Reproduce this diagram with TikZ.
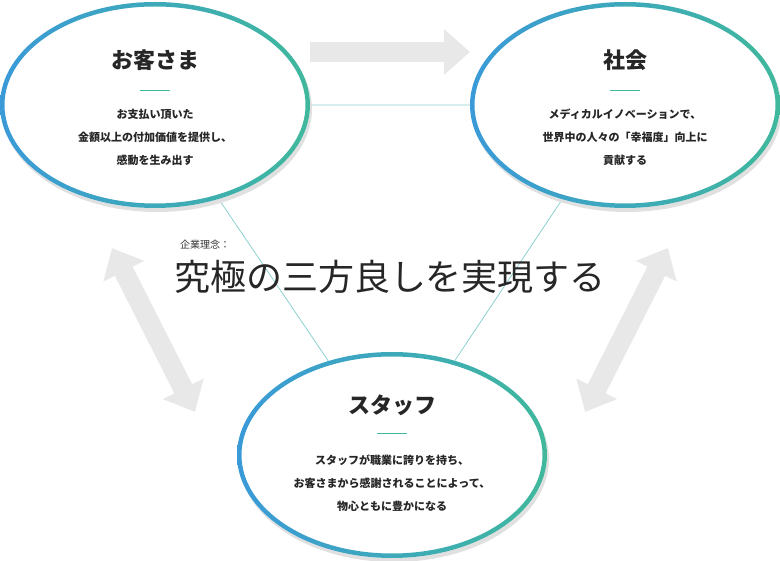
\documentclass[tikz,border=0pt]{standalone}
\usepackage{fontspec}
\setmainfont{Noto Sans CJK JP}
\usetikzlibrary{arrows.meta,positioning,calc}
\definecolor{ringblue}{HTML}{3A9AD8}
\definecolor{ringteal}{HTML}{40B89C}
\definecolor{arrowgray}{HTML}{E8E8E8}
\definecolor{linkteal}{HTML}{8FD0D0}
\tikzset{
  titletext/.style={font=\fontsize{22}{26}\selectfont\bfseries, text=black!85},
  bodytext/.style={font=\fontsize{11}{23}\selectfont\bfseries, align=center, text=black!85},
  bigarrow/.style={arrowgray, line width=20pt, -{Triangle[length=26pt,width=44pt]}},
  dblarrow/.style={arrowgray, line width=20pt, {Triangle[length=26pt,width=44pt]}-{Triangle[length=26pt,width=44pt]}},
}
\newcommand{\ringat}[1]{%
  \fill[black!12] ($(#1)+(2,4)$) ellipse [x radius=155, y radius=103];
  \fill[white] (#1) ellipse [x radius=155, y radius=103];
  \shade[left color=ringblue, right color=ringteal, even odd rule]
    (#1) ellipse [x radius=155, y radius=103]
    (#1) ellipse [x radius=150.5, y radius=98.5];
}
\begin{document}
\begin{tikzpicture}[x=1pt,y=-1pt]
  \useasboundingbox (0,0) rectangle (780,561);
  \coordinate (ck) at (155,105);
  \coordinate (cs) at (625,105);
  \coordinate (cf) at (392,455);
  % arrows
  \draw[bigarrow] (310,52) -- (470,52);
  \draw[dblarrow] (112,248) -- (195,412);
  \draw[dblarrow] (668,248) -- (585,412);
  % triangle links
  \draw[linkteal, line width=0.8pt] (ck) -- (cs) -- (cf) -- cycle;
  % rings
  \ringat{ck}
  \ringat{cs}
  \ringat{cf}
  % customer
  \node[titletext] (kt) at (155,60) {お客さま};
  \draw[ringteal, line width=1pt] (140,91) -- (170,91);
  \node[bodytext] (kb) at (155,137) {お支払い頂いた\\金額以上の付加価値を提供し、\\感動を生み出す};
  % society
  \node[titletext] (st) at (625,60) {社会};
  \draw[ringteal, line width=1pt] (610,91) -- (640,91);
  \node[bodytext] (sb) at (625,137) {メディカルイノベーションで、\\世界中の人々の「幸福度」向上に\\貢献する};
  % staff
  \node[titletext] (ft) at (392,405) {スタッフ};
  \draw[ringteal, line width=1pt] (377,434) -- (407,434);
  \node[bodytext] (fb) at (392,483) {スタッフが職業に誇りを持ち、\\お客さまから感謝されることによって、\\物心ともに豊かになる};
  % centre
  \node[font=\fontsize{10}{12}\selectfont, text=black!80] (lbl) at (205,245) {企業理念：};
  \node[font=\fontsize{36}{40}\selectfont, text=black!85] (main) at (390,277) {究極の三方良しを実現する};
\end{tikzpicture}
\end{document}
